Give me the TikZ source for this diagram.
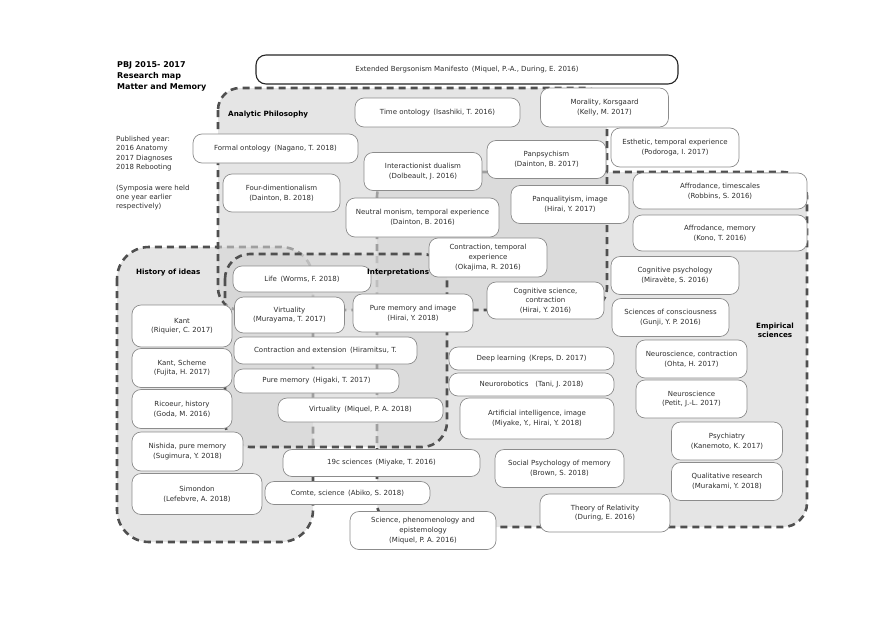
\documentclass[tikz,border=0pt]{standalone}
\usepackage{fontspec}
\setmainfont{DejaVu Sans}
\definecolor{dashc}{HTML}{505050}
\definecolor{boxc}{HTML}{8C8C8C}
\definecolor{txtc}{HTML}{2E2E2E}
\definecolor{regfill}{HTML}{D4D4D4}
\newcommand{\gp}{\hspace{0.5em}}
\newcommand{\bx}[6]{\node[bx,minimum width=#4pt,minimum height=#5pt] (#1) at (#2,#3) {#6};}
\tikzset{
  region/.style={draw=dashc, line width=2.6pt, dash pattern=on 7pt off 5pt,
    fill=regfill, fill opacity=0.6},
  bx/.style={draw=boxc, line width=0.7pt, fill=white, rounded corners=9pt,
    align=center, text=txtc, font=\fontsize{7}{9.6}\selectfont, inner sep=1pt},
  lbl/.style={font=\fontsize{7.2}{9}\selectfont\bfseries, text=black, inner sep=0pt},
  hdr/.style={font=\fontsize{8}{11}\selectfont\bfseries, text=black, inner sep=0pt, anchor=base west},
  note/.style={font=\fontsize{7}{9.5}\selectfont, text=txtc, inner sep=0pt, anchor=base west},
}
\begin{document}
\begin{tikzpicture}[x=1pt,y=-1pt]
\useasboundingbox (0,0) rectangle (890,629);
% regions
\draw[region, rounded corners=24pt] (377,172) rectangle (807,527);
\draw[region, rounded corners=32pt] (117,247) rectangle (313,542);
\draw[region, rounded corners=22pt] (218,88) rectangle (607,310);
\draw[region, rounded corners=25pt] (225,254) rectangle (447,447);
% header texts
\node[hdr] (h1) at (117,67) {PBJ 2015- 2017};
\node[hdr] (h2) at (117,78) {Research map};
\node[hdr] (h3) at (117,89) {Matter and Memory};
\node[note] (n1) at (116,141) {Published year:};
\node[note] (n2) at (116,150.5) {2016 Anatomy};
\node[note] (n3) at (116,160) {2017 Diagnoses};
\node[note] (n4) at (116,169.5) {2018 Rebooting};
\node[note] (n5) at (116,190) {(Symposia were held};
\node[note] (n6) at (116,199) {one year earlier};
\node[note] (n7) at (116,208) {respectively)};
% boxes
\node[bx, draw=black!85, line width=1.1pt, rounded corners=10pt, minimum width=422pt, minimum height=29pt] (ext) at (467,69.5) {Extended Bergsonism Manifesto\gp(Miquel, P.-A., During, E. 2016)};
\bx{time}{437.5}{112.5}{165}{29}{Time ontology\gp(Isashiki, T. 2016)}
\bx{moral}{604.5}{107.5}{128}{39}{Morality, Korsgaard\\(Kelly, M. 2017)}
\bx{formal}{275.5}{148.5}{165}{29}{Formal ontology\gp(Nagano, T. 2018)}
\bx{esth}{675}{147.5}{128}{39}{Esthetic, temporal experience\\(Podoroga, I. 2017)}
\bx{inter}{423}{171.5}{118}{38}{Interactionist dualism\\(Dolbeault, J. 2016)}
\bx{panpsy}{546.5}{159.5}{119}{38}{Panpsychism\\(Dainton, B. 2017)}
\bx{four}{281.5}{193}{117}{38}{Four-dimentionalism\\(Dainton, B. 2018)}
\bx{neutral}{422.5}{217.5}{153}{39}{Neutral monism, temporal experience\\(Dainton, B. 2016)}
\bx{panq}{570}{204.5}{118}{38}{Panqualityism, image\\(Hirai, Y. 2017)}
\bx{affa}{720}{191}{174}{36}{Affrodance, timescales\\(Robbins, S. 2016)}
\bx{affb}{720}{233}{174}{36}{Affrodance, memory\\(Kono, T. 2016)}
\bx{contr}{488}{257.5}{118}{39}{Contraction, temporal\\experience\\(Okajima, R. 2016)}
\bx{cogpsy}{675}{275.5}{128}{38}{Cognitive psychology\\(Miravète, S. 2016)}
\bx{life}{302}{279}{138}{26}{Life\gp(Worms, F. 2018)}
\bx{virta}{289.5}{315}{110}{36}{Virtuality\\(Murayama, T. 2017)}
\bx{pmimg}{413}{313}{120}{38}{Pure memory and image\\(Hirai, Y. 2018)}
\bx{cogsci}{545.5}{300.5}{117}{37}{Cognitive science,\\contraction\\(Hirai, Y. 2016)}
\bx{scicons}{670.5}{317.5}{117}{38}{Sciences of consciousness\\(Gunji, Y. P. 2016)}
\bx{kant}{182}{326}{100}{42}{Kant\\(Riquier, C. 2017)}
\bx{contrext}{325.5}{350.5}{183}{27}{Contraction and extension\gp(Hiramitsu, T.}
\bx{neucon}{691.5}{359}{111}{38}{Neuroscience, contraction\\(Ohta, H. 2017)}
\bx{deep}{531.5}{358.5}{165}{23}{Deep learning\gp(Kreps, D. 2017)}
\bx{kants}{182}{368}{100}{39}{Kant, Scheme\\(Fujita, H. 2017)}
\bx{pm}{316.5}{381}{165}{24}{Pure memory\gp(Higaki, T. 2017)}
\bx{neurob}{531.5}{384.5}{165}{23}{Neurorobotics\hspace{1em}(Tani, J. 2018)}
\bx{ricoeur}{182}{409}{100}{39}{Ricoeur, history\\(Goda, M. 2016)}
\bx{virtb}{360.5}{410}{165}{24}{Virtuality\gp(Miquel, P. A. 2018)}
\bx{neuro}{691.5}{399}{111}{38}{Neuroscience\\(Petit, J.-L. 2017)}
\bx{ai}{537}{418.5}{154}{41}{Artificial intelligence, image\\(Miyake, Y., Hirai, Y. 2018)}
\bx{nishida}{187.5}{451.5}{111}{39}{Nishida, pure memory\\(Sugimura, Y. 2018)}
\bx{psych}{727}{441}{111}{38}{Psychiatry\\(Kanemoto, K. 2017)}
\bx{cxix}{381.5}{463}{197}{27}{19c sciences\gp(Miyake, T. 2016)}
\bx{social}{559.5}{468.5}{129}{38}{Social Psychology of memory\\(Brown, S. 2018)}
\bx{qual}{727}{481.5}{111}{38}{Qualitative research\\(Murakami, Y. 2018)}
\bx{simondon}{197}{494}{130}{41}{Simondon\\(Lefebvre, A. 2018)}
\bx{comte}{347.5}{493}{165}{23}{Comte, science\gp(Abiko, S. 2018)}
\bx{relat}{605}{513}{130}{38}{Theory of Relativity\\(During, E. 2016)}
\bx{scipheno}{423}{530.5}{146}{38}{Science, phenomenology and\\epistemology\\(Miquel, P. A. 2016)}
% region labels (on top)
\node[lbl, anchor=base west] (lana) at (228,116) {Analytic Philosophy};
\node[lbl, anchor=base west] (lhis) at (136,274) {History of ideas};
\node[lbl, anchor=base west] (lint) at (367,274) {Interpretations};
\node[lbl, anchor=base] (lemp1) at (775,328.5) {Empirical};
\node[lbl, anchor=base] (lemp2) at (775,337) {sciences};
\end{tikzpicture}
\end{document}
